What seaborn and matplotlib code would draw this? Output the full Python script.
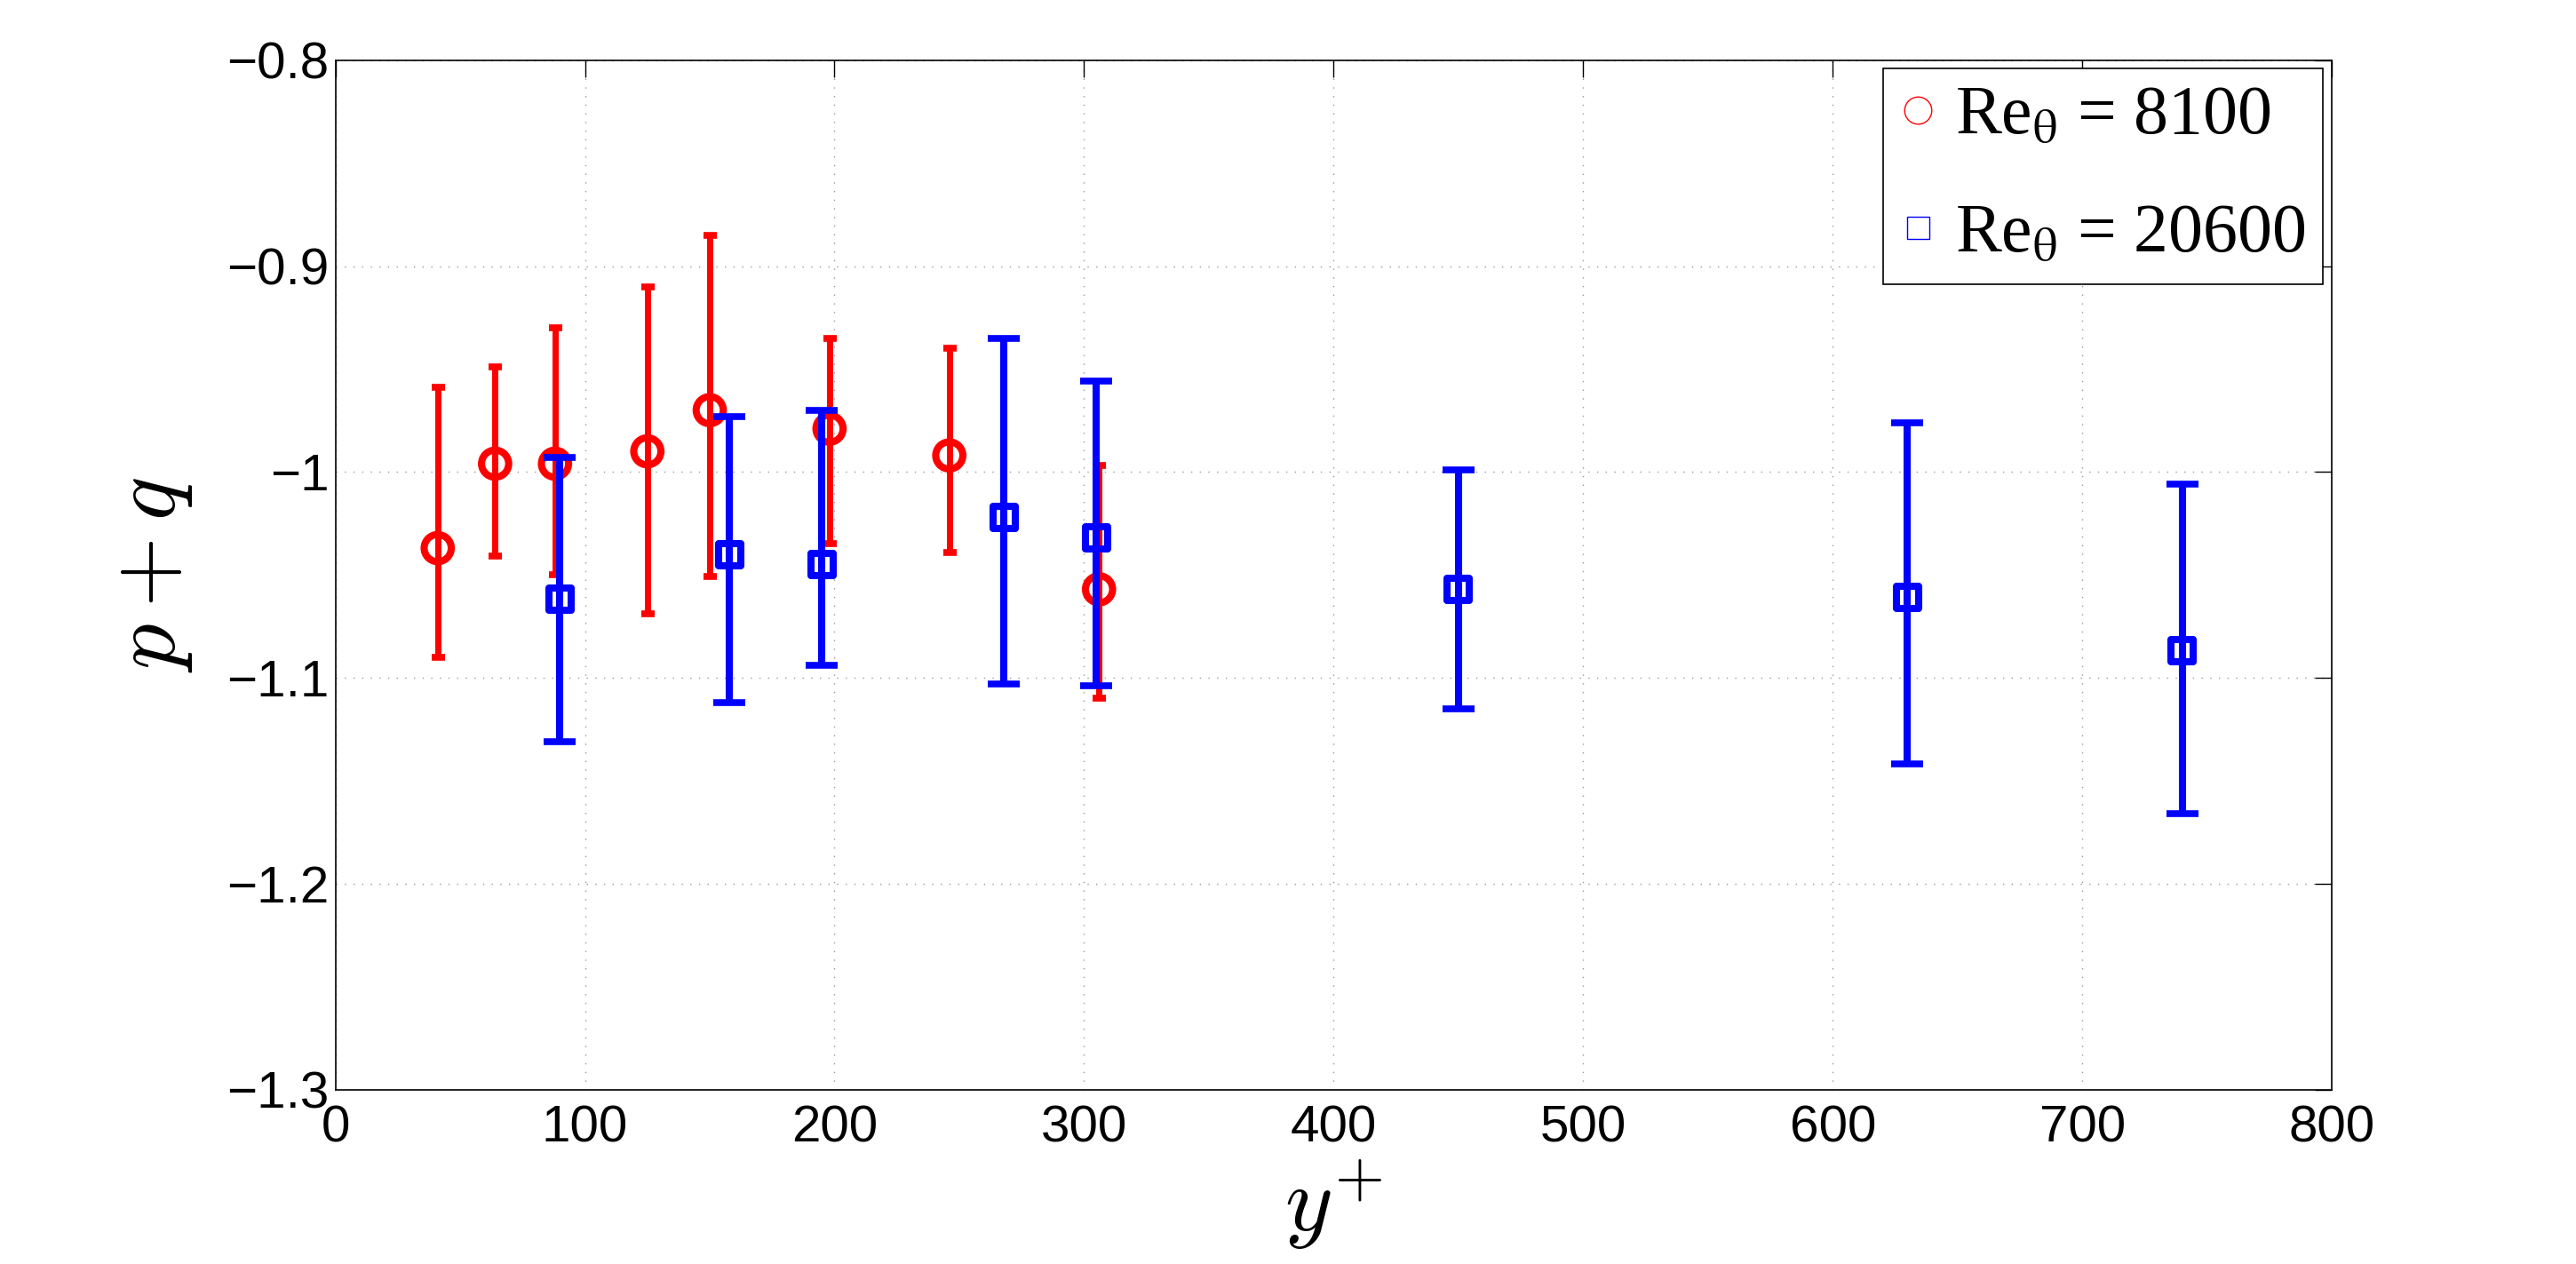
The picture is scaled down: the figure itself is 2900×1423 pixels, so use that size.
import numpy as np
import pandas as pd
import matplotlib
matplotlib.use("Agg")
import matplotlib.pyplot as plt
from matplotlib.lines import Line2D
from matplotlib.font_manager import FontProperties
import seaborn as sns

# ---- data ----
red_x = [41, 64, 88, 125, 150, 198, 246, 306]
red_y = [-1.037, -0.996, -0.996, -0.990, -0.970, -0.979, -0.992, -1.057]
red_hi = [-0.959, -0.949, -0.930, -0.910, -0.885, -0.935, -0.940, -0.997]
red_lo = [-1.090, -1.041, -1.050, -1.069, -1.051, -1.035, -1.039, -1.110]

blue_x = [90, 158, 195, 268, 305, 450, 630, 740]
blue_y = [-1.062, -1.040, -1.045, -1.022, -1.032, -1.057, -1.061, -1.087]
blue_hi = [-0.993, -0.973, -0.970, -0.935, -0.956, -0.999, -0.976, -1.006]
blue_lo = [-1.131, -1.112, -1.094, -1.103, -1.104, -1.115, -1.142, -1.166]

labels = ["Re$_\\mathrm{θ}$ = 8100", "Re$_\\mathrm{θ}$ = 20600"]
x_ticks = [0, 100, 200, 300, 400, 500, 600, 700, 800]
y_ticks = [-1.3, -1.2, -1.1, -1.0, -0.9, -0.8]
y_ticklabels = ["\u22121.3", "\u22121.2", "\u22121.1", "\u22121", "\u22120.9", "\u22120.8"]

sns.set_theme(style="white")
plt.rcParams["font.family"] = ["Liberation Sans", "DejaVu Sans"]
plt.rcParams["text.color"] = "black"

df_red = pd.DataFrame({"x": red_x, "y": red_y, "hi": red_hi, "lo": red_lo})
df_blue = pd.DataFrame({"x": blue_x, "y": blue_y, "hi": blue_hi, "lo": blue_lo})

fig = plt.figure(figsize=(29, 14.23), dpi=100)
ax = fig.add_axes([0.1302, 0.1380, 0.7750, 0.8144])

red = "#ff0000"
blue = "#0000ff"

# red series
ax.errorbar(df_red["x"], df_red["y"],
            yerr=[df_red["y"] - df_red["lo"], df_red["hi"] - df_red["y"]],
            fmt="none", ecolor=red, elinewidth=5.0, capsize=5.4, capthick=5.5, zorder=2)
sns.scatterplot(data=df_red, x="x", y="y", ax=ax, marker="o", s=22 ** 2,
                facecolors="none", edgecolor=red, linewidth=5.8, zorder=3, legend=False)

# blue series
ax.errorbar(df_blue["x"], df_blue["y"],
            yerr=[df_blue["y"] - df_blue["lo"], df_blue["hi"] - df_blue["y"]],
            fmt="none", ecolor=blue, elinewidth=5.8, capsize=13.3, capthick=5.5, zorder=4)
sns.scatterplot(data=df_blue, x="x", y="y", ax=ax, marker="s", s=18 ** 2,
                facecolors="none", edgecolor=blue, linewidth=5.8, zorder=5, legend=False)

ax.set_xlim(0, 800)
ax.set_ylim(-1.3, -0.8)
ax.set_xticks(x_ticks)
ax.set_xticklabels([str(t) for t in x_ticks])
ax.set_yticks(y_ticks)
ax.set_yticklabels(y_ticklabels)

ax.grid(True, linestyle=(0, (1, 6)), color="#999999", linewidth=1.0)
ax.tick_params(axis="both", which="major", direction="in", length=14, width=1.0,
               labelsize=42, top=True, right=True, color="black",
               labelcolor="black")
ax.tick_params(axis="y", pad=5)
ax.tick_params(axis="x", pad=12)
for sp in ax.spines.values():
    sp.set_visible(True)
    sp.set_color("black")
    sp.set_linewidth(1.2)

label_fp = FontProperties(size=74, math_fontfamily="cm")
ax.set_xlabel("$y^{+}$", fontproperties=label_fp, labelpad=4, color="black")
ax.set_ylabel("$p + q$", fontproperties=label_fp, labelpad=26, color="black")

handles = [
    Line2D([], [], linestyle="none", marker="o", markersize=22, markerfacecolor="none",
           markeredgecolor=red, markeredgewidth=1.0),
    Line2D([], [], linestyle="none", marker="s", markersize=18, markerfacecolor="none",
           markeredgecolor=blue, markeredgewidth=1.0),
]
leg_fp = FontProperties(family=["Liberation Serif", "DejaVu Serif"], size=56,
                        math_fontfamily="stix")
leg = ax.legend(handles, labels, loc="upper right", bbox_to_anchor=(0.9956, 0.992),
                frameon=True, fancybox=False, shadow=False, framealpha=1,
                handlelength=0.5, handletextpad=0.3, borderpad=0.25, labelspacing=0.78,
                borderaxespad=0.0, prop=leg_fp)
leg.get_frame().set_edgecolor("black")
leg.get_frame().set_linewidth(1.2)
for t in leg.get_texts():
    t.set_color("black")

fig.savefig("out.png", dpi=100, facecolor="white")
